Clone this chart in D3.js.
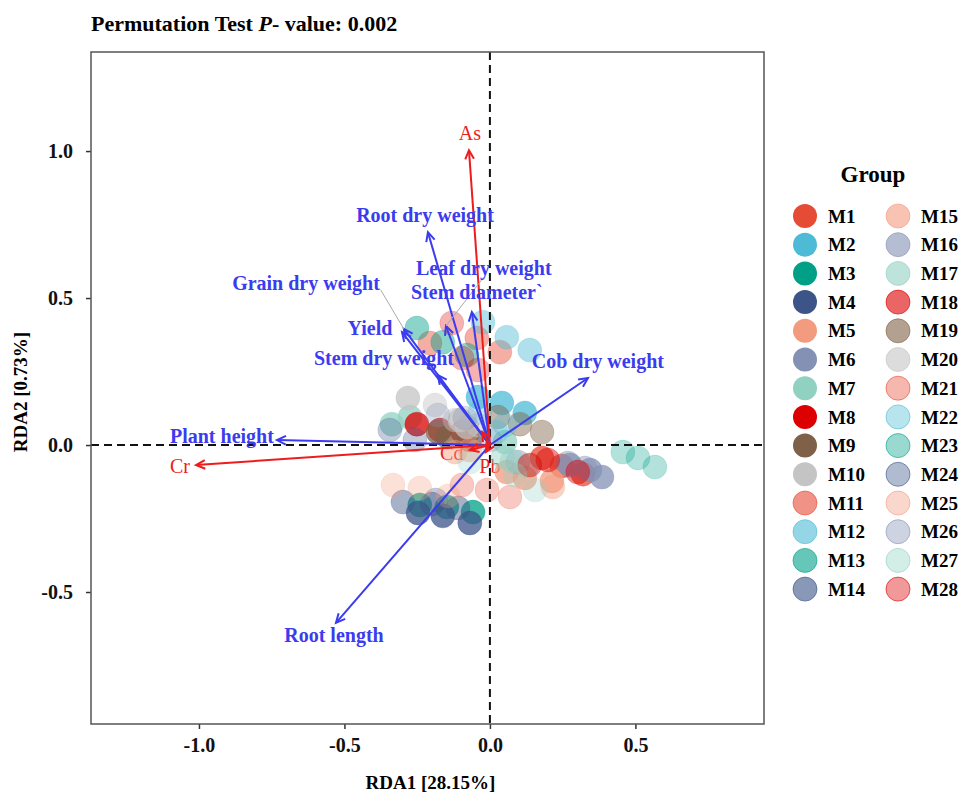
<!DOCTYPE html>
<html lang="en">
<head>
  <meta charset="UTF-8">
  <script src="https://d3js.org/d3.v7.min.js"></script>
  <title>RDA</title>
  <style>
    body { margin: 0; background: #fff; }
    text { font-family: 'Liberation Serif', 'Times New Roman', serif; }
  </style>
</head>
<body>
  <script>
    // groups and their fills (npg base, lighter for M11-M28)
    var groups = ['M1','M2','M3','M4','M5','M6','M7','M8','M9','M10',
      'M11','M12','M13','M14','M15','M16','M17','M18','M19','M20',
      'M21','M22','M23','M24','M25','M26','M27','M28'];
    var baseColors = ['#E64B35','#4DBBD5','#00A087','#3C5488','#F39B7F','#8491B4','#91D1C2','#DC0000','#7E6148','#C4C4C4'];

    // samples: [group, RDA1, RDA2]
    var samples = [
      ['M1', 0.179, -0.044], ['M1', 0.247, -0.071], ['M1', 0.320, -0.099],
      ['M2', -0.041, 0.163], ['M2', 0.041, 0.143], ['M2', 0.120, 0.109],
      ['M3', -0.241, -0.204], ['M3', -0.148, -0.211], ['M3', -0.058, -0.228],
      ['M4', -0.247, -0.231], ['M4', -0.162, -0.241], ['M4', -0.069, -0.265],
      ['M5', 0.058, -0.092], ['M5', 0.120, -0.112], ['M5', 0.213, -0.122],
      ['M6', 0.344, -0.085], ['M6', 0.385, -0.109], ['M6', 0.275, -0.068],
      ['M7', -0.275, 0.095], ['M7', -0.337, 0.071], ['M7', 0.052, 0.010],
      ['M8', -0.251, 0.071], ['M8', -0.172, 0.051], ['M8', -0.093, 0.044],
      ['M9', -0.179, 0.044], ['M9', -0.144, 0.027], ['M9', -0.069, 0.017],
      ['M10', -0.282, 0.160], ['M10', -0.103, 0.085], ['M10', -0.079, 0.061],
      ['M11', -0.045, 0.364], ['M11', 0.034, 0.316], ['M11', -0.206, 0.347],
      ['M12', -0.024, 0.418], ['M12', 0.058, 0.367], ['M12', 0.137, 0.323],
      ['M13', -0.251, 0.398], ['M13', -0.162, 0.350], ['M13', -0.079, 0.306],
      ['M14', -0.299, -0.194], ['M14', -0.199, -0.201], ['M14', -0.110, -0.214],
      ['M15', 0.216, -0.143], ['M15', -0.120, -0.024], ['M15', -0.069, -0.017],
      ['M16', 0.096, -0.058], ['M16', 0.268, -0.061], ['M16', 0.326, -0.078],
      ['M17', 0.045, -0.041], ['M17', 0.127, -0.071], ['M17', 0.076, -0.054],
      ['M18', 0.199, -0.051], ['M18', 0.302, -0.092], ['M18', 0.137, -0.068],
      ['M19', 0.027, 0.095], ['M19', 0.103, 0.071], ['M19', 0.179, 0.044],
      ['M20', -0.189, 0.136], ['M20', -0.120, 0.085], ['M20', -0.041, 0.068],
      ['M21', -0.096, -0.136], ['M21', -0.010, -0.153], ['M21', 0.069, -0.177],
      ['M22', 0.021, 0.044], ['M22', 0.052, 0.068], ['M22', -0.034, 0.112],
      ['M23', 0.457, -0.024], ['M23', 0.509, -0.044], ['M23', 0.567, -0.075],
      ['M24', -0.344, 0.051], ['M24', -0.258, 0.017], ['M24', -0.186, -0.187],
      ['M25', -0.333, -0.136], ['M25', -0.241, -0.146], ['M25', -0.144, -0.173],
      ['M26', -0.179, 0.102], ['M26', -0.086, 0.092], ['M26', 0.0, 0.017],
      ['M27', 0.086, -0.102], ['M27', 0.155, -0.153], ['M27', -0.069, -0.058],
      ['M28', -0.131, 0.415], ['M28', -0.041, 0.255], ['M28', -0.096, 0.296]
    ];

    // environmental (red) arrows
    var envNames = ['As', 'Cr', 'Cd', 'Pb', 'Hg'];
    var envRDA1 = [-0.072, -1.010, -0.069, -0.014, -0.027];
    var envRDA2 = [1.003, -0.068, -0.017, -0.024, 0.044];

    // response (blue) arrows
    var traitNames = ['Root dry weight', 'Leaf dry weight', 'Stem diameter`', 'Grain dry weight', 'Yield',
      'Stem dry weight', 'Cob dry weight', 'Plant height', 'Root length'];
    var traitRDA1 = [-0.213, -0.151, -0.062, -0.296, -0.302, -0.179, 0.337, -0.732, -0.529];
    var traitRDA2 = [0.724, 0.405, 0.452, 0.395, 0.384, 0.238, 0.228, 0.017, -0.605];

    var xTicks = [-1.0, -0.5, 0.0, 0.5];
    var yTicks = [-0.5, 0.0, 0.5, 1.0];

    // label placement (repelled positions, data units)
    var envLabelPos = [[-0.069, 1.061], [-1.065, -0.071], [-0.131, -0.027], [0.0, -0.071], [-0.076, 0.058]];
    var traitLabelPos = [[-0.223, 0.782], [-0.021, 0.602], [-0.045, 0.520], [-0.632, 0.551], [-0.412, 0.398],
      [-0.364, 0.296], [0.371, 0.286], [-0.921, 0.031], [-0.536, -0.646]];
    var leaderFrom = {'Grain dry weight': [-0.375, 0.527], 'Leaf dry weight': [-0.022, 0.570]};

    var W = 964, H = 794;
    var box = {left: 91, right: 764, top: 52, bottom: 724};

    var svg = d3.select('body').append('svg')
      .attr('width', W).attr('height', H);

    var x = d3.scaleLinear().domain([-1.371, 0.942]).range([box.left, box.right]);
    var y = d3.scaleLinear().domain([-0.949, 1.337]).range([box.bottom, box.top]);

    var fmt = function(d) { return d3.format('.1f')(d).replace('\u2212', '-'); };

    function groupColor(g) {
      var i = groups.indexOf(g);
      return baseColors[i % 10];
    }
    function groupAlpha(g) {
      var i = groups.indexOf(g);
      return i < 10 ? 1 : (i < 20 ? 0.6 : 0.4);
    }

    // title
    var title = svg.append('text')
      .attr('x', box.left).attr('y', 31)
      .attr('font-size', 22).attr('font-weight', 'bold');
    title.append('tspan').text('Permutation Test ');
    title.append('tspan').attr('font-style', 'italic').text('P');
    title.append('tspan').text('- value: 0.002');

    // axes
    svg.append('g')
      .attr('transform', 'translate(0,' + box.bottom + ')')
      .call(d3.axisBottom(x).tickValues(xTicks).tickFormat(fmt).tickSize(5).tickSizeOuter(0))
      .call(function(g) {
        g.select('.domain').remove();
        g.selectAll('line').attr('stroke', '#333').attr('stroke-width', 1.5);
        g.selectAll('text').attr('font-size', 20).attr('font-weight', 'bold').attr('fill', '#111')
          .attr('dy', 0).attr('y', 28);
      });
    svg.append('g')
      .attr('transform', 'translate(' + box.left + ',0)')
      .call(d3.axisLeft(y).tickValues(yTicks).tickFormat(fmt).tickSize(5).tickSizeOuter(0))
      .call(function(g) {
        g.select('.domain').remove();
        g.selectAll('line').attr('stroke', '#333').attr('stroke-width', 1.5);
        g.selectAll('text').attr('font-size', 20).attr('font-weight', 'bold').attr('fill', '#111')
          .attr('x', -18);
      });

    svg.append('text')
      .attr('x', (box.left + box.right) / 2 + 3).attr('y', 789)
      .attr('text-anchor', 'middle').attr('font-size', 19).attr('font-weight', 'bold')
      .text('RDA1 [28.15%]');
    svg.append('text')
      .attr('transform', 'translate(27,' + ((box.top + box.bottom) / 2 + 4) + ') rotate(-90)')
      .attr('text-anchor', 'middle').attr('font-size', 19).attr('font-weight', 'bold')
      .text('RDA2 [0.73%]');

    var blue = '#3B3BEF', red = '#EE1C1C';

    // red labels sit under the sample points
    svg.append('g').selectAll('text')
      .data(envNames)
      .join('text')
      .attr('x', function(d, i) { return x(envLabelPos[i][0]); })
      .attr('y', function(d, i) { return y(envLabelPos[i][1]); })
      .attr('dy', '0.35em')
      .attr('text-anchor', 'middle')
      .attr('font-size', 20)
      .attr('fill', red)
      .text(function(d) { return d; });

    // samples
    svg.append('g').selectAll('circle')
      .data(samples)
      .join('circle')
      .attr('cx', function(d) { return x(d[1]); })
      .attr('cy', function(d) { return y(d[2]); })
      .attr('r', 12)
      .attr('fill', function(d) { return groupColor(d[0]); })
      .attr('fill-opacity', function(d) { return 0.75 * groupAlpha(d[0]); })
      .attr('stroke', function(d) { return groupColor(d[0]); })
      .attr('stroke-opacity', function(d) { return 0.35 * groupAlpha(d[0]); })
      .attr('stroke-width', 1);

    // zero lines
    svg.append('line')
      .attr('x1', box.left).attr('x2', box.right).attr('y1', y(0)).attr('y2', y(0))
      .attr('stroke', '#111').attr('stroke-width', 2).attr('stroke-dasharray', '8,5');
    svg.append('line')
      .attr('x1', x(0)).attr('x2', x(0)).attr('y1', box.top).attr('y2', box.bottom)
      .attr('stroke', '#111').attr('stroke-width', 2).attr('stroke-dasharray', '8,5');

    // frame
    svg.append('rect')
      .attr('x', box.left).attr('y', box.top)
      .attr('width', box.right - box.left).attr('height', box.bottom - box.top)
      .attr('fill', 'none').attr('stroke', '#555').attr('stroke-width', 1.5);

    function arrow(g, x1, y1, color) {
      var px0 = x(0), py0 = y(0), px1 = x(x1), py1 = y(y1);
      var a = Math.atan2(py1 - py0, px1 - px0), len = 10, sp = Math.PI / 7;
      g.append('line')
        .attr('x1', px0).attr('y1', py0).attr('x2', px1).attr('y2', py1)
        .attr('stroke', color).attr('stroke-width', 2);
      g.append('path')
        .attr('d', 'M' + (px1 - len * Math.cos(a - sp)) + ',' + (py1 - len * Math.sin(a - sp)) +
          'L' + px1 + ',' + py1 +
          'L' + (px1 - len * Math.cos(a + sp)) + ',' + (py1 - len * Math.sin(a + sp)))
        .attr('fill', 'none').attr('stroke', color).attr('stroke-width', 2);
    }

    var arrows = svg.append('g');
    traitNames.forEach(function(n, i) { arrow(arrows, traitRDA1[i], traitRDA2[i], blue); });
    envNames.forEach(function(n, i) { arrow(arrows, envRDA1[i], envRDA2[i], red); });

    // leader lines
    traitNames.forEach(function(n, i) {
      if (leaderFrom[n]) {
        svg.append('line')
          .attr('x1', x(leaderFrom[n][0])).attr('y1', y(leaderFrom[n][1]))
          .attr('x2', x(traitRDA1[i])).attr('y2', y(traitRDA2[i]))
          .attr('stroke', '#aaa').attr('stroke-width', 1);
      }
    });

    svg.append('g').selectAll('text')
      .data(traitNames)
      .join('text')
      .attr('x', function(d, i) { return x(traitLabelPos[i][0]); })
      .attr('y', function(d, i) { return y(traitLabelPos[i][1]); })
      .attr('dy', '0.35em')
      .attr('text-anchor', 'middle')
      .attr('font-size', 20).attr('font-weight', 'bold')
      .attr('fill', blue)
      .text(function(d) { return d; });

    // legend
    var leg = svg.append('g');
    leg.append('text')
      .attr('x', 873).attr('y', 182)
      .attr('text-anchor', 'middle').attr('font-size', 23).attr('font-weight', 'bold')
      .text('Group');
    var item = leg.selectAll('g.item')
      .data(groups)
      .join('g')
      .attr('class', 'item')
      .attr('transform', function(d, i) {
        var col = Math.floor(i / 14), row = i % 14;
        return 'translate(' + (805 + col * 93) + ',' + (216 + row * 28.7) + ')';
      });
    item.append('circle')
      .attr('r', 12)
      .attr('fill', function(d) { return groupColor(d); })
      .attr('fill-opacity', function(d) { return groupAlpha(d); })
      .attr('stroke', function(d) { return groupColor(d); })
      .attr('stroke-opacity', function(d) { return groupAlpha(d) < 1 ? 0.6 : 0; })
      .attr('stroke-width', 1);
    item.append('text')
      .attr('x', 23).attr('dy', '0.35em')
      .attr('font-size', 19).attr('font-weight', 'bold')
      .text(function(d) { return d; });
  </script>
</body>
</html>
